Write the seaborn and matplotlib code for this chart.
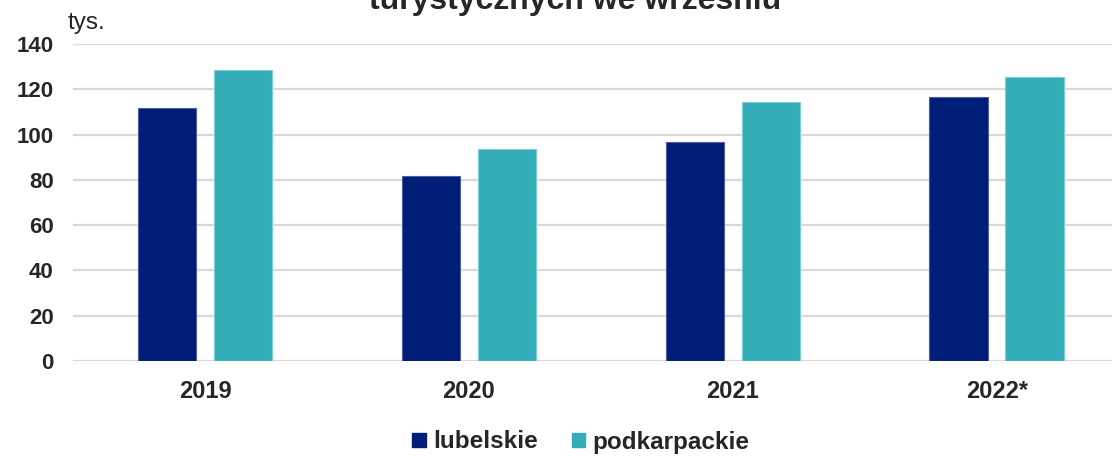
import matplotlib
matplotlib.use("Agg")
import matplotlib.pyplot as plt
import seaborn as sns
import pandas as pd
from matplotlib.patches import Patch

years = ["2019", "2020", "2021", "2022*"]
lubelskie = [111.6, 81.7, 96.9, 116.8]
podkarpackie = [128.5, 93.5, 114.5, 125.4]
series_names = ["lubelskie", "podkarpackie"]
colors = ["#001E77", "#33ADB7"]
edge_colors = ["#4A5FA0", "#7CCFD6"]

df = pd.DataFrame({
    "rok": years * 2,
    "wartosc": lubelskie + podkarpackie,
    "wojewodztwo": [series_names[0]] * len(years) + [series_names[1]] * len(years),
})

sns.set_theme(style="white")
plt.rcParams["font.family"] = ["Liberation Sans", "DejaVu Sans"]

fig = plt.figure(figsize=(11.12, 4.57), dpi=100)
ax = fig.add_axes([73 / 1112, 1 - 361 / 457, 1 - 73 / 1112, (361 - 44) / 457])

sns.barplot(
    data=df, x="rok", y="wartosc", hue="wojewodztwo",
    order=years, hue_order=series_names, palette=colors,
    width=0.576, gap=0.226, saturation=1, ax=ax, legend=False,
    errorbar=None,
)
for patch_group, ec in zip(ax.containers, edge_colors):
    for p in patch_group:
        p.set_edgecolor(ec)
        p.set_linewidth(0.8)

ax.set_ylim(0, 140)
ax.set_xlim(-0.5, 3.436)
ax.set_yticks(range(0, 141, 20))
ax.yaxis.grid(True, color="#D9D9D9", linewidth=1.6)
ax.set_axisbelow(True)
for s in ax.spines.values():
    s.set_visible(False)
ax.set_xlabel("")
ax.set_ylabel("")
ax.tick_params(axis="y", length=0, pad=14, labelsize=16)
ax.tick_params(axis="x", length=0, pad=14, labelsize=17)
for lbl in ax.get_xticklabels() + ax.get_yticklabels():
    lbl.set_fontweight("bold")

fig.text(68 / 1112, 1 - 29 / 457, "tys.", fontsize=17.5, ha="left", va="baseline")
fig.text(575 / 1112, 1 - 9 / 457, "turystycznych we wrześniu", fontsize=23,
         fontweight="bold", ha="center", va="baseline")

handles = [Patch(facecolor=c, edgecolor=c) for c in colors]
fig.legend(handles, series_names, loc="center", bbox_to_anchor=(581 / 1112, 1 - 442 / 457),
           ncol=2, frameon=False, handlelength=0.55, handleheight=0.55, handletextpad=0.3,
           columnspacing=1.4, prop={"weight": "bold", "size": 17.5})

fig.savefig("out.png", dpi=100)
